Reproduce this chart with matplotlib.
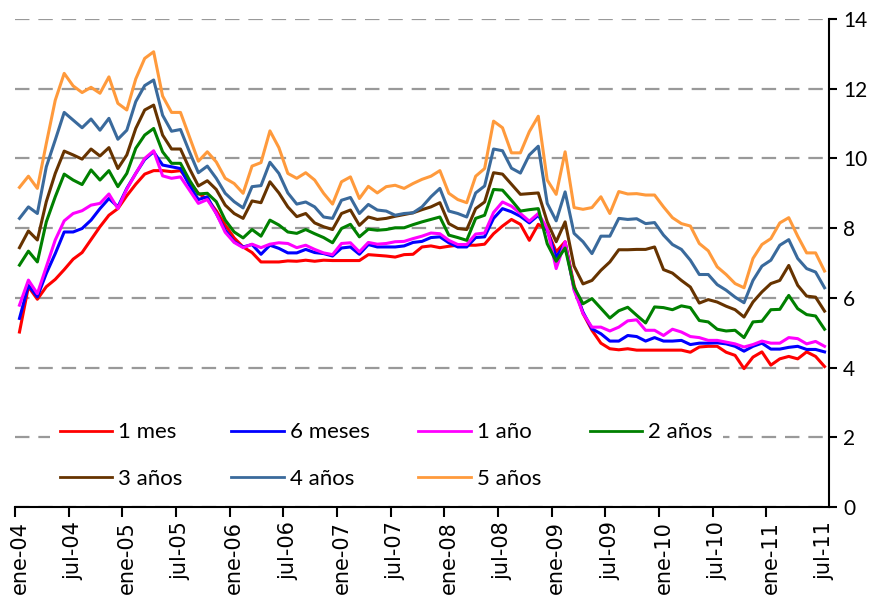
import numpy as np
import matplotlib
matplotlib.use("Agg")
import matplotlib.pyplot as plt

# tasas mensuales ene-04 .. jul-11 (91 meses)
mes1 = [5.02, 6.32, 5.96, 6.32, 6.53, 6.81, 7.11, 7.30, 7.67, 8.04, 8.37, 8.56, 8.93, 9.26, 9.55, 9.65,
        9.65, 9.62, 9.65, 9.33, 9.00, 8.83, 8.50, 8.09, 7.72, 7.46, 7.30, 7.03, 7.03, 7.03, 7.06, 7.05,
        7.08, 7.05, 7.08, 7.07, 7.07, 7.07, 7.07, 7.24, 7.22, 7.20, 7.17, 7.24, 7.25, 7.46, 7.49, 7.44,
        7.48, 7.51, 7.51, 7.51, 7.54, 7.84, 8.06, 8.25, 8.11, 7.65, 8.11, 7.94, 7.32, 7.61, 6.36, 5.55,
        5.07, 4.70, 4.54, 4.51, 4.54, 4.50, 4.50, 4.50, 4.50, 4.50, 4.50, 4.44, 4.59, 4.61, 4.61, 4.44,
        4.35, 3.97, 4.30, 4.45, 4.07, 4.25, 4.32, 4.25, 4.45, 4.32, 4.03]
meses6 = [5.41, 6.36, 6.03, 6.70, 7.27, 7.89, 7.89, 7.99, 8.23, 8.56, 8.85, 8.61, 9.14, 9.57, 9.97, 10.19,
          9.81, 9.76, 9.71, 9.23, 8.82, 8.90, 8.42, 7.94, 7.61, 7.46, 7.53, 7.25, 7.51, 7.42, 7.29, 7.29,
          7.39, 7.30, 7.27, 7.20, 7.43, 7.46, 7.25, 7.53, 7.46, 7.46, 7.46, 7.49, 7.59, 7.62, 7.73, 7.75,
          7.58, 7.46, 7.46, 7.73, 7.75, 8.28, 8.56, 8.47, 8.34, 8.15, 8.37, 7.94, 7.17, 7.56, 6.26, 5.59,
          5.11, 4.97, 4.76, 4.76, 4.92, 4.89, 4.76, 4.86, 4.76, 4.76, 4.78, 4.66, 4.70, 4.70, 4.71, 4.68,
          4.61, 4.47, 4.61, 4.70, 4.53, 4.53, 4.58, 4.61, 4.52, 4.52, 4.45]
ano1 = [5.79, 6.51, 6.12, 6.89, 7.66, 8.21, 8.42, 8.50, 8.66, 8.71, 8.98, 8.56, 9.12, 9.57, 10.00, 10.22,
        9.50, 9.43, 9.47, 9.09, 8.71, 8.82, 8.42, 7.88, 7.59, 7.44, 7.54, 7.44, 7.54, 7.58, 7.56, 7.44,
        7.51, 7.39, 7.29, 7.24, 7.56, 7.58, 7.32, 7.59, 7.54, 7.56, 7.61, 7.62, 7.70, 7.77, 7.86, 7.84,
        7.65, 7.53, 7.53, 7.83, 7.86, 8.45, 8.75, 8.63, 8.42, 8.20, 8.42, 7.99, 6.84, 7.61, 6.22, 5.55,
        5.16, 5.16, 5.05, 5.16, 5.34, 5.37, 5.07, 5.07, 4.92, 5.10, 5.02, 4.89, 4.86, 4.78, 4.78, 4.73,
        4.68, 4.59, 4.66, 4.76, 4.70, 4.70, 4.86, 4.83, 4.68, 4.75, 4.61]
anos2 = [6.94, 7.34, 7.03, 8.18, 8.90, 9.55, 9.38, 9.25, 9.67, 9.38, 9.65, 9.19, 9.57, 10.29, 10.67, 10.86,
         10.19, 9.86, 9.86, 9.38, 8.98, 9.00, 8.76, 8.23, 7.89, 7.72, 7.96, 7.77, 8.23, 8.09, 7.89, 7.85,
         7.96, 7.84, 7.73, 7.58, 7.99, 8.11, 7.75, 7.97, 7.94, 7.96, 8.01, 8.01, 8.10, 8.18, 8.25, 8.32,
         7.80, 7.73, 7.65, 8.28, 8.37, 9.11, 9.09, 8.80, 8.49, 8.53, 8.56, 7.55, 7.05, 7.43, 6.31, 5.83,
         5.98, 5.70, 5.42, 5.63, 5.73, 5.50, 5.28, 5.74, 5.72, 5.66, 5.77, 5.72, 5.35, 5.31, 5.10, 5.05,
         5.07, 4.86, 5.31, 5.33, 5.66, 5.67, 6.07, 5.69, 5.52, 5.48, 5.10]
anos3 = [7.44, 7.92, 7.66, 8.76, 9.57, 10.21, 10.10, 9.98, 10.27, 10.07, 10.31, 9.71, 10.10, 10.86, 11.39, 11.53,
         10.67, 10.27, 10.27, 9.71, 9.21, 9.36, 9.11, 8.66, 8.42, 8.28, 8.78, 8.73, 9.33, 9.01, 8.61, 8.33,
         8.42, 8.15, 8.04, 7.96, 8.42, 8.52, 8.08, 8.32, 8.25, 8.28, 8.34, 8.39, 8.44, 8.53, 8.61, 8.73,
         8.13, 7.99, 7.96, 8.56, 8.75, 9.59, 9.55, 9.26, 8.97, 8.99, 9.01, 8.18, 7.61, 8.18, 6.91, 6.40,
         6.50, 6.79, 7.03, 7.38, 7.38, 7.39, 7.39, 7.46, 6.81, 6.71, 6.50, 6.31, 5.85, 5.95, 5.88, 5.76,
         5.66, 5.45, 5.88, 6.17, 6.41, 6.50, 6.93, 6.36, 6.05, 6.02, 5.62]
anos4 = [8.28, 8.61, 8.42, 9.76, 10.53, 11.32, 11.10, 10.88, 11.13, 10.81, 11.15, 10.55, 10.81, 11.63, 12.09, 12.25,
         11.24, 10.78, 10.83, 10.19, 9.59, 9.78, 9.43, 9.00, 8.76, 8.58, 9.19, 9.22, 9.89, 9.57, 9.01, 8.69,
         8.75, 8.61, 8.32, 8.28, 8.80, 8.88, 8.42, 8.68, 8.52, 8.49, 8.37, 8.42, 8.44, 8.61, 8.90, 9.14,
         8.49, 8.42, 8.32, 9.01, 9.21, 10.27, 10.22, 9.72, 9.58, 10.10, 10.35, 8.71, 8.21, 9.04, 7.85, 7.61,
         7.27, 7.77, 7.77, 8.28, 8.25, 8.27, 8.13, 8.16, 7.80, 7.53, 7.39, 7.08, 6.67, 6.67, 6.38, 6.22,
         6.02, 5.86, 6.50, 6.91, 7.08, 7.51, 7.67, 7.13, 6.84, 6.74, 6.29]
anos5 = [9.17, 9.49, 9.14, 10.43, 11.67, 12.44, 12.08, 11.89, 12.04, 11.87, 12.34, 11.58, 11.39, 12.28, 12.87, 13.06,
         11.79, 11.32, 11.32, 10.62, 9.92, 10.19, 9.90, 9.43, 9.28, 9.00, 9.78, 9.88, 10.79, 10.31, 9.57, 9.43,
         9.59, 9.38, 9.00, 8.69, 9.33, 9.47, 8.85, 9.20, 9.01, 9.19, 9.23, 9.14, 9.28, 9.40, 9.49, 9.65,
         9.00, 8.82, 8.73, 9.49, 9.71, 11.07, 10.88, 10.16, 10.16, 10.77, 11.21, 9.38, 8.97, 10.19, 8.59, 8.54,
         8.59, 8.90, 8.42, 9.05, 8.98, 8.99, 8.95, 8.95, 8.61, 8.30, 8.13, 8.06, 7.56, 7.35, 6.89, 6.67,
         6.41, 6.29, 7.13, 7.53, 7.70, 8.15, 8.30, 7.77, 7.29, 7.29, 6.77]

series = [mes1, meses6, ano1, anos2, anos3, anos4, anos5]
nombres = ["1 mes", "6 meses", "1 año", "2 años", "3 años", "4 años", "5 años"]
colores = ["#FF0000", "#0000FF", "#FF00FF", "#008000", "#663300", "#3A6A9C", "#FF9A3C"]
etiquetas = ["ene-04", "jul-04", "ene-05", "jul-05", "ene-06", "jul-06", "ene-07", "jul-07",
             "ene-08", "jul-08", "ene-09", "jul-09", "ene-10", "jul-10", "ene-11", "jul-11"]

x = np.arange(len(mes1))

fig = plt.figure(figsize=(8.81, 5.98), dpi=100)
ax = fig.add_axes([15/881, 1-507/598, 814/881, 488/598])

lineas = []
for s, nom, col in zip(series, nombres, colores):
    l, = ax.plot(x, s, color=col, lw=2.2, label=nom)
    lineas.append(l)

ax.set_xlim(-0.5, len(x)-0.5)
ax.set_ylim(0, 14)

# eje y a la derecha
ax.yaxis.tick_right()
ax.set_yticks(np.arange(0, 15, 2))
ax.tick_params(axis="y", direction="out", length=6, width=1.5, pad=4, labelsize=15)
for t in ax.get_yticklabels():
    t.set_fontfamily("Lato")

# ticks entre categorias, etiquetas en el mes
ax.set_xticks(np.arange(0, len(x)-1, 6)-0.5)
ax.set_xticklabels([])
ax.set_xticks(np.arange(0, len(x), 6), minor=True)
ax.set_xticklabels(etiquetas, minor=True, rotation=90, fontsize=15, family="DejaVu Sans")
ax.tick_params(axis="x", which="major", direction="out", length=7, width=1.5)
ax.tick_params(axis="x", which="minor", length=0, pad=10)

for sp in ["left", "top"]:
    ax.spines[sp].set_visible(False)
for sp in ["right", "bottom"]:
    ax.spines[sp].set_linewidth(1.5)
    ax.spines[sp].set_zorder(6)

ax.set_axisbelow(True)
ax.grid(axis="y", color="#999999", lw=1.6, linestyle=(0, (6.5, 4)))

# leyenda por filas (matplotlib llena por columnas)
orden = [0, 4, 1, 5, 2, 6, 3]
leg = ax.legend([lineas[i] for i in orden], [nombres[i] for i in orden],
                ncol=4, loc="upper left", bbox_to_anchor=(0.043, 0.194), borderaxespad=0,
                frameon=True, fancybox=False, edgecolor="none", facecolor="white", framealpha=1,
                prop={"family": "Lato", "size": 16}, handlelength=2.35, handletextpad=0.27,
                columnspacing=2.2, labelspacing=1.2, borderpad=0.45)
for l in leg.get_lines():
    l.set_linewidth(2.0)

fig.savefig("out.png", dpi=100)
